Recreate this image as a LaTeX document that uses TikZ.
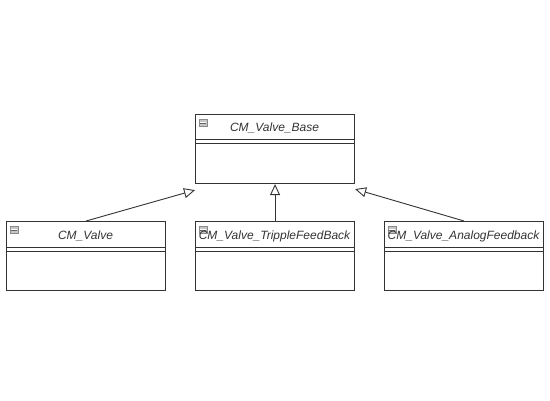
\documentclass[tikz,border=0pt]{standalone}
\usepackage{fontspec}
\setmainfont{Liberation Sans}
\usetikzlibrary{arrows.meta}
\definecolor{linec}{HTML}{333333}
\definecolor{textc}{HTML}{333333}
\definecolor{iconc}{HTML}{8A8A8A}
\tikzset{
  classbox/.style={draw=linec, line width=1.1pt, minimum width=159pt, minimum height=69pt, inner sep=0pt, anchor=north west},
  classtitle/.style={text=textc, font=\fontsize{12}{14}\selectfont\itshape, inner sep=0pt, anchor=base},
  sepline/.style={draw=linec, line width=0.9pt},
  inherit/.style={draw=linec, line width=0.9pt, -{Triangle[open, length=11pt, width=10pt, line width=0.9pt]}},
  iconbox/.style={fill=iconc!50, draw=iconc, line width=0.5pt, minimum width=8pt, minimum height=7pt, inner sep=0pt}
}
\newcommand{\classicon}[2]{%
  \node[iconbox] (#1) at (#2) {};
  \draw[white, line width=1.5pt] ([xshift=1.3pt]#1.west) -- ([xshift=-1.3pt]#1.east);
  \draw[iconc!70!black, line width=0.6pt] ([xshift=1.3pt]#1.west) -- ([xshift=-1.3pt]#1.east);
}
\begin{document}
\begin{tikzpicture}[x=1pt, y=-1pt]
\useasboundingbox (0,0) rectangle (550,400);
% base
\node[classbox] (base) at (195,114) {};
\draw[sepline] (195,139) -- (354,139);
\draw[sepline] (195,143) -- (354,143);
\node[classtitle] (basetitle) at (274.5,131.5) {CM\_Valve\_Base};
\classicon{baseicon}{203,123}
% valve
\node[classbox] (valve) at (6,221) {};
\draw[sepline] (6,247) -- (165,247);
\draw[sepline] (6,251) -- (165,251);
\node[classtitle] (valvetitle) at (85.5,239.5) {CM\_Valve};
\classicon{valveicon}{14,230}
% tripple
\node[classbox] (trip) at (195,221) {};
\draw[sepline] (195,247) -- (354,247);
\draw[sepline] (195,251) -- (354,251);
\classicon{tripicon}{203,230}
\node[classtitle] (triptitle) at (274.5,239.5) {CM\_Valve\_TrippleFeedBack};
% analog
\node[classbox] (ana) at (384,221) {};
\draw[sepline] (384,247) -- (543,247);
\draw[sepline] (384,251) -- (543,251);
\classicon{anaicon}{392,230}
\node[classtitle] (anatitle) at (463.5,239.5) {CM\_Valve\_AnalogFeedback};
% connectors
\draw[inherit] (valve.north) -- ([yshift=-6pt]base.south west);
\draw[inherit] (trip.north) -- (base.south);
\draw[inherit] (ana.north) -- ([yshift=-5pt]base.south east);
\end{tikzpicture}
\end{document}
